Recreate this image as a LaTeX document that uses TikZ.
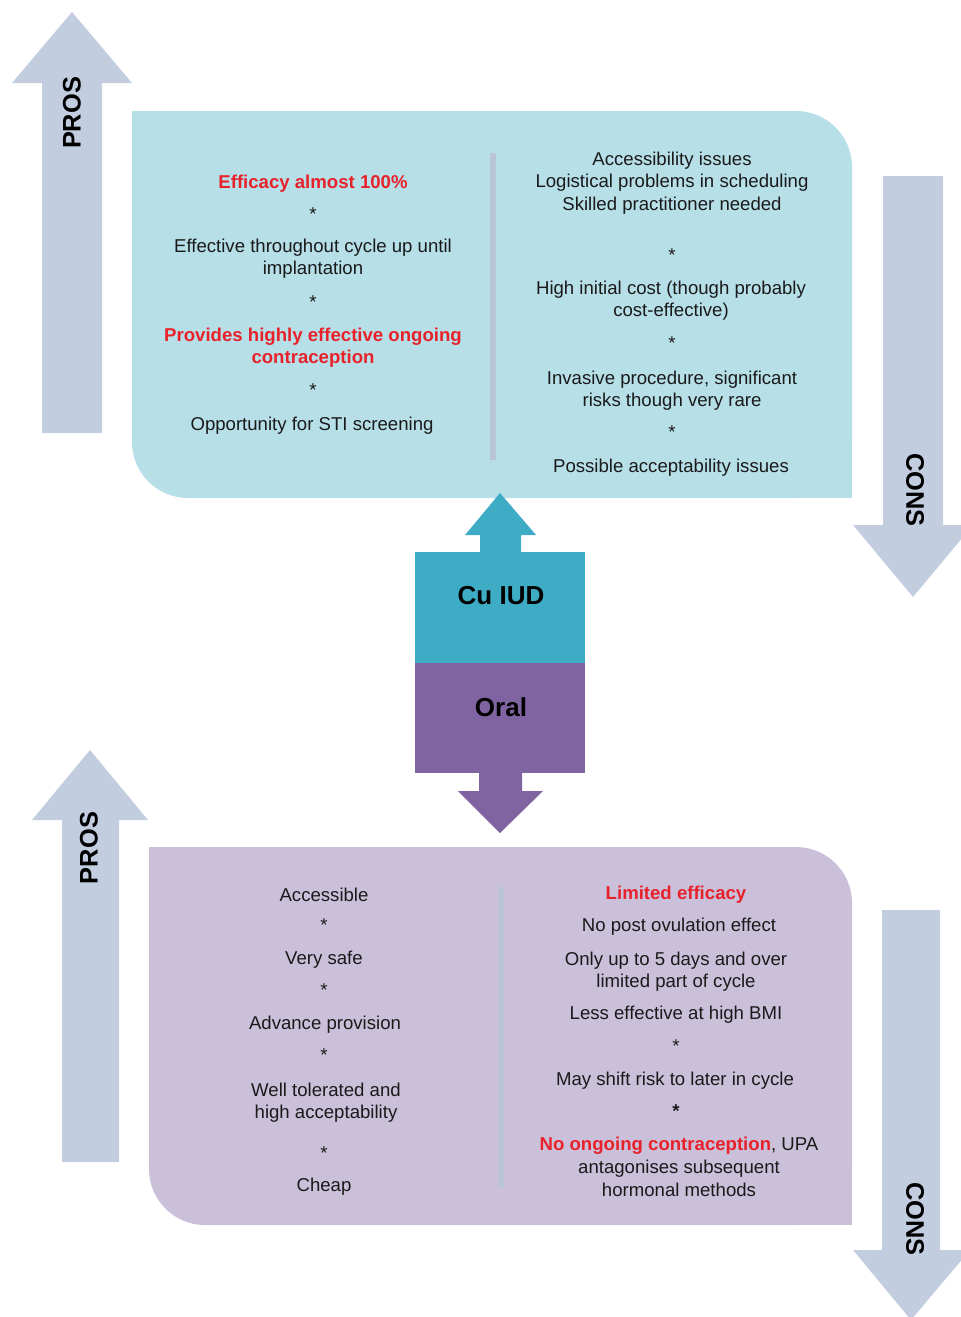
\documentclass[tikz,border=0pt]{standalone}
\usepackage{fontspec}
\setmainfont{Liberation Sans}

\definecolor{iudbg}{HTML}{B7DFE8}
\definecolor{oralbg}{HTML}{CAC0DA}
\definecolor{procon}{HTML}{C2CDE0}
\definecolor{iudfill}{HTML}{3FACC5}
\definecolor{oralfill}{HTML}{8064A2}
\definecolor{effred}{HTML}{E8222B}
\definecolor{divider}{HTML}{B9C4D9}
\definecolor{txtgray}{HTML}{1A1A1A}

\tikzset{
    body/.style={align=center, text=txtgray, inner sep=0pt, yshift=-1.4pt, font=\fontsize{9.3}{11.3}\selectfont},
    hot/.style={body, text=effred, font=\bfseries\fontsize{9.3}{11.3}\selectfont},
    starmark/.style={body},
    tag/.style={text=black, inner sep=0pt, font=\bfseries\fontsize{12.7}{14}\selectfont},
    method/.style={text=black, inner sep=0pt, font=\bfseries\fontsize{13}{15}\selectfont},
}

\begin{document}
\begin{tikzpicture}[x=0.5pt, y=-0.5pt]

    \useasboundingbox (0,0) rectangle (960,1317);

    % boxes (two corners rounded)
    \path[fill=iudbg, rounded corners=28pt] (132,111) rectangle (852,498);
    \path[fill=iudbg] (132,111) rectangle (200,180);
    \path[fill=iudbg] (780,430) rectangle (852,498);

    \path[fill=oralbg, rounded corners=28pt] (149,847) rectangle (852,1225);
    \path[fill=oralbg] (149,847) rectangle (220,920);
    \path[fill=oralbg] (780,1150) rectangle (852,1225);

    % dividers
    \path[draw=divider, line width=2.6pt] (493,153) -- (493,460);
    \path[draw=divider, line width=2.6pt] (501,887) -- (501,1187);

    % pros / cons arrows
    \path[fill=procon] (42,433) -- (42,83) -- (12,83) -- (72,12) -- (132,83) -- (102,83) -- (102,433) -- cycle;
    \path[fill=procon] (883,176) -- (943,176) -- (943,525) -- (973,525) -- (913,597) -- (853,525) -- (883,525) -- cycle;
    \path[fill=procon] (62,1162) -- (62,820) -- (32,820) -- (90,750) -- (148,820) -- (119,820) -- (119,1162) -- cycle;
    \path[fill=procon] (882,910) -- (940,910) -- (940,1250) -- (970,1250) -- (911,1320) -- (853,1250) -- (882,1250) -- cycle;

    \node[tag, rotate=90] (pros1) at (72,113) {PROS};
    \node[tag, rotate=-90] (cons1) at (915,490) {CONS};
    \node[tag, rotate=90] (pros2) at (89,848) {PROS};
    \node[tag, rotate=-90] (cons2) at (915,1219) {CONS};

    % centre blocks
    \path[fill=iudfill] (480,553) -- (480,535) -- (465,535) -- (500,493) -- (536,535) -- (521,535) -- (521,553) -- cycle;
    \path[fill=iudfill] (415,552) rectangle (585,663);
    \path[fill=oralfill] (415,663) rectangle (585,773);
    \path[fill=oralfill] (479,772) -- (479,791) -- (458,791) -- (500,833) -- (543,791) -- (522,791) -- (522,772) -- cycle;

    \node[method] (cuiud) at (501,596) {Cu IUD};
    \node[method] (oral) at (501,707) {Oral};

    % Cu IUD pros
    \node[hot] (effic) at (313,181) {Efficacy almost 100\%};
    \node[body] (thru) at (313,256) {Effective throughout cycle up until\\implantation};
    \node[hot] (ongo) at (313,345) {Provides highly effective ongoing\\contraception};
    \node[body] (sti) at (312,423) {Opportunity for STI screening};

    % Cu IUD cons
    \node[body] (access) at (672,180) {Accessibility issues\\Logistical problems in scheduling\\Skilled practitioner needed};
    \node[body] (cost) at (671,298) {High initial cost (though probably\\cost-effective)};
    \node[body] (invas) at (672,388) {Invasive procedure, significant\\risks though very rare};
    \node[body] (accept) at (671,465) {Possible acceptability issues};

    % Oral pros
    \node[body] (orAcc) at (324,892) {Accessible};
    \node[body] (safe) at (324,957) {Very safe};
    \node[body] (adv) at (325,1022) {Advance provision};
    \node[body] (toler) at (326,1100) {Well tolerated and\\high acceptability};
    \node[body] (cheap) at (324,1184) {Cheap};

    % Oral cons
    \node[hot] (limit) at (676,892) {Limited efficacy};
    \node[body] (nopost) at (679,924) {No post ovulation effect};
    \node[body] (fiveday) at (676,969) {Only up to 5 days and over\\limited part of cycle};
    \node[body] (bmi) at (676,1012) {Less effective at high BMI};
    \node[body] (shift) at (675,1078) {May shift risk to later in cycle};
    \node[body] (noong) at (679,1164) {{\color{effred}\bfseries No ongoing contraception}, UPA\\antagonises subsequent\\hormonal methods};

    % asterisks
    \foreach \x/\y [count=\i] in {313/211, 313/299, 313/387, 672/252, 672/340, 672/429,
                                  324/922, 324/987, 324/1052, 324/1150, 676/1043}
        \node[starmark] (ast\i) at (\x,\y) {*};
    \node[starmark, font=\bfseries\fontsize{9.3}{11.3}\selectfont] (astb) at (676,1108) {*};

\end{tikzpicture}
\end{document}
